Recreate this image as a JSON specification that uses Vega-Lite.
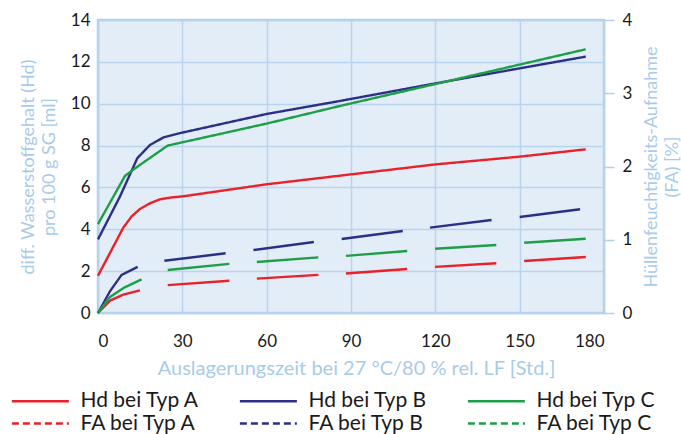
{
  "$schema": "https://vega.github.io/schema/vega-lite/v6.json",
  "width": 506,
  "height": 293,
  "autosize": {"type": "none"},
  "padding": {"left": 98, "top": 20, "right": 77, "bottom": 121},
  "config": {
    "font": "Lato",
    "view": {"fill": "#e3edf7", "stroke": "#b3cfee", "strokeWidth": 2.5},
    "axis": {"labelFont": "Lato", "titleFont": "Lato"},
    "legend": {"labelFont": "Lato"}
  },
  "datasets": {
    "hd": [
      {"series": "Hd bei Typ A", "t": 0, "v": 1.78},
      {"series": "Hd bei Typ A", "t": 9, "v": 4.08},
      {"series": "Hd bei Typ A", "t": 12, "v": 4.62},
      {"series": "Hd bei Typ A", "t": 14.9, "v": 4.97},
      {"series": "Hd bei Typ A", "t": 18.5, "v": 5.24},
      {"series": "Hd bei Typ A", "t": 22, "v": 5.43},
      {"series": "Hd bei Typ A", "t": 26, "v": 5.52},
      {"series": "Hd bei Typ A", "t": 30, "v": 5.57},
      {"series": "Hd bei Typ A", "t": 60, "v": 6.15},
      {"series": "Hd bei Typ A", "t": 86, "v": 6.56},
      {"series": "Hd bei Typ A", "t": 120, "v": 7.1},
      {"series": "Hd bei Typ A", "t": 150, "v": 7.47},
      {"series": "Hd bei Typ A", "t": 173.5, "v": 7.82},
      {"series": "Hd bei Typ B", "t": 0, "v": 3.52},
      {"series": "Hd bei Typ B", "t": 7.8, "v": 5.56},
      {"series": "Hd bei Typ B", "t": 14, "v": 7.4},
      {"series": "Hd bei Typ B", "t": 18.5, "v": 8.03},
      {"series": "Hd bei Typ B", "t": 23.3, "v": 8.39},
      {"series": "Hd bei Typ B", "t": 30, "v": 8.62},
      {"series": "Hd bei Typ B", "t": 60, "v": 9.51},
      {"series": "Hd bei Typ B", "t": 86, "v": 10.13},
      {"series": "Hd bei Typ B", "t": 120, "v": 10.97},
      {"series": "Hd bei Typ B", "t": 150, "v": 11.69},
      {"series": "Hd bei Typ B", "t": 173.5, "v": 12.25},
      {"series": "Hd bei Typ C", "t": 0, "v": 4.25},
      {"series": "Hd bei Typ C", "t": 9.6, "v": 6.55},
      {"series": "Hd bei Typ C", "t": 14, "v": 6.99},
      {"series": "Hd bei Typ C", "t": 24.8, "v": 8.0},
      {"series": "Hd bei Typ C", "t": 60, "v": 9.05},
      {"series": "Hd bei Typ C", "t": 86, "v": 9.89},
      {"series": "Hd bei Typ C", "t": 120, "v": 10.94},
      {"series": "Hd bei Typ C", "t": 150, "v": 11.87},
      {"series": "Hd bei Typ C", "t": 173.5, "v": 12.6}
    ],
    "fa": [
      {"series": "FA bei Typ A", "seg": "A1", "t": 0, "f": 0},
      {"series": "FA bei Typ A", "seg": "A1", "t": 4.3, "f": 0.17},
      {"series": "FA bei Typ A", "seg": "A1", "t": 9, "f": 0.25},
      {"series": "FA bei Typ A", "seg": "A1", "t": 14.9, "f": 0.31},
      {"series": "FA bei Typ A", "seg": "A2", "t": 24.8, "f": 0.38},
      {"series": "FA bei Typ A", "seg": "A2", "t": 46.7, "f": 0.44},
      {"series": "FA bei Typ A", "seg": "A3", "t": 56.5, "f": 0.47},
      {"series": "FA bei Typ A", "seg": "A3", "t": 78.4, "f": 0.52},
      {"series": "FA bei Typ A", "seg": "A4", "t": 88.2, "f": 0.54},
      {"series": "FA bei Typ A", "seg": "A4", "t": 110, "f": 0.6},
      {"series": "FA bei Typ A", "seg": "A5", "t": 119.9, "f": 0.63},
      {"series": "FA bei Typ A", "seg": "A5", "t": 141.7, "f": 0.68},
      {"series": "FA bei Typ A", "seg": "A6", "t": 151.6, "f": 0.71},
      {"series": "FA bei Typ A", "seg": "A6", "t": 173.5, "f": 0.765},
      {"series": "FA bei Typ B", "seg": "B1", "t": 0, "f": 0},
      {"series": "FA bei Typ B", "seg": "B1", "t": 4.3, "f": 0.3},
      {"series": "FA bei Typ B", "seg": "B1", "t": 8.4, "f": 0.52},
      {"series": "FA bei Typ B", "seg": "B1", "t": 14.1, "f": 0.63},
      {"series": "FA bei Typ B", "seg": "B2", "t": 23.6, "f": 0.714},
      {"series": "FA bei Typ B", "seg": "B2", "t": 45.4, "f": 0.815},
      {"series": "FA bei Typ B", "seg": "B3", "t": 55.3, "f": 0.86},
      {"series": "FA bei Typ B", "seg": "B3", "t": 76.8, "f": 0.97},
      {"series": "FA bei Typ B", "seg": "B4", "t": 86.7, "f": 1.01},
      {"series": "FA bei Typ B", "seg": "B4", "t": 108.4, "f": 1.12},
      {"series": "FA bei Typ B", "seg": "B5", "t": 118.1, "f": 1.165},
      {"series": "FA bei Typ B", "seg": "B5", "t": 140, "f": 1.27},
      {"series": "FA bei Typ B", "seg": "B6", "t": 150, "f": 1.31},
      {"series": "FA bei Typ B", "seg": "B6", "t": 171.5, "f": 1.416},
      {"series": "FA bei Typ C", "seg": "C1", "t": 0, "f": 0},
      {"series": "FA bei Typ C", "seg": "C1", "t": 4.3, "f": 0.22},
      {"series": "FA bei Typ C", "seg": "C1", "t": 9.5, "f": 0.35},
      {"series": "FA bei Typ C", "seg": "C1", "t": 15.5, "f": 0.46},
      {"series": "FA bei Typ C", "seg": "C2", "t": 24.8, "f": 0.587},
      {"series": "FA bei Typ C", "seg": "C2", "t": 46.7, "f": 0.67},
      {"series": "FA bei Typ C", "seg": "C3", "t": 56.5, "f": 0.696},
      {"series": "FA bei Typ C", "seg": "C3", "t": 78.4, "f": 0.76},
      {"series": "FA bei Typ C", "seg": "C4", "t": 88.2, "f": 0.78},
      {"series": "FA bei Typ C", "seg": "C4", "t": 110, "f": 0.846},
      {"series": "FA bei Typ C", "seg": "C5", "t": 119.9, "f": 0.878},
      {"series": "FA bei Typ C", "seg": "C5", "t": 141.7, "f": 0.928},
      {"series": "FA bei Typ C", "seg": "C6", "t": 151.6, "f": 0.96},
      {"series": "FA bei Typ C", "seg": "C6", "t": 173.5, "f": 1.014}
    ]
  },
  "layer": [
    {
      "data": {"name": "hd"},
      "mark": {"type": "line", "strokeWidth": 2.4},
      "encoding": {
        "x": {
          "field": "t", "type": "quantitative",
          "scale": {"domain": [0, 180], "nice": false},
          "axis": {
            "values": [0, 30, 60, 90, 120, 150, 180],
            "grid": true, "gridColor": "#b9d4ef", "gridWidth": 1.5,
            "domain": false, "ticks": false,
            "labelPadding": 20, "labelFontSize": 17, "labelColor": "#1a1a1a",
            "title": "Auslagerungszeit bei 27 °C/80 % rel. LF [Std.]",
            "titleColor": "#a9cbea", "titleFontSize": 20, "titleFontWeight": "normal",
            "titlePadding": 9, "titleX": 258
          }
        },
        "y": {
          "field": "v", "type": "quantitative",
          "scale": {"domain": [0, 14], "nice": false},
          "axis": {
            "orient": "left",
            "values": [0, 2, 4, 6, 8, 10, 12, 14],
            "grid": true, "gridColor": "#b9d4ef", "gridWidth": 1.5,
            "domain": false, "ticks": false,
            "labelPadding": 8, "labelFontSize": 17, "labelColor": "#1a1a1a",
            "title": ["diff. Wasserstoffgehalt (Hd)", "pro 100 g SG [ml]"],
            "titleColor": "#a9cbea", "titleFontSize": 18, "titleFontWeight": "normal",
            "titleLineHeight": 21, "titlePadding": 12
          }
        },
        "color": {
          "field": "series", "type": "nominal",
          "scale": {
            "domain": ["Hd bei Typ A", "Hd bei Typ B", "Hd bei Typ C", "FA bei Typ A", "FA bei Typ B", "FA bei Typ C"],
            "range": ["#e8212b", "#2c2f86", "#1f9e4a", "#e8212b", "#2c2f86", "#1f9e4a"]
          },
          "legend": {
            "title": null,
            "orient": "none",
            "direction": "horizontal",
            "legendX": -89.5,
            "legendY": 370.5,
            "columns": 3,
            "columnPadding": 35,
            "rowPadding": 0.5,
            "padding": 0,
            "symbolType": "M-1,0H7",
            "symbolSize": 203,
            "symbolStrokeWidth": 2.5,
            "labelFontSize": 21,
            "labelColor": "#1a1a1a",
            "labelOffset": 51,
            "labelLimit": 300
          }
        },
        "strokeDash": {
          "field": "series", "type": "nominal",
          "scale": {
            "domain": ["Hd bei Typ A", "Hd bei Typ B", "Hd bei Typ C", "FA bei Typ A", "FA bei Typ B", "FA bei Typ C"],
            "range": [[1, 0], [1, 0], [1, 0], [7, 4], [7, 4], [7, 4]]
          },
          "legend": {
            "title": null,
            "orient": "none",
            "direction": "horizontal",
            "legendX": -89.5,
            "legendY": 370.5,
            "columns": 3,
            "columnPadding": 35,
            "rowPadding": 0.5,
            "padding": 0,
            "symbolType": "M-1,0H7",
            "symbolSize": 203,
            "symbolStrokeWidth": 2.5,
            "labelFontSize": 21,
            "labelColor": "#1a1a1a",
            "labelOffset": 51,
            "labelLimit": 300
          }
        }
      }
    },
    {
      "data": {"name": "fa"},
      "mark": {"type": "line", "strokeWidth": 2.4},
      "encoding": {
        "x": {"field": "t", "type": "quantitative", "scale": {"domain": [0, 180], "nice": false}},
        "y": {
          "field": "f", "type": "quantitative",
          "scale": {"domain": [0, 4], "nice": false},
          "axis": {
            "orient": "right",
            "values": [0, 1, 2, 3, 4],
            "grid": false, "domain": false,
            "ticks": true, "tickSize": 10, "tickColor": "#b3cfee", "tickWidth": 1.5,
            "labelPadding": 8, "labelFontSize": 17, "labelColor": "#1a1a1a",
            "title": ["Hüllenfeuchtigkeits-Aufnahme", "(FA) [%]"],
            "titleAngle": -90,
            "titleColor": "#a9cbea", "titleFontSize": 18, "titleFontWeight": "normal",
            "titleLineHeight": 21, "titlePadding": 8
          }
        },
        "color": {"field": "series", "type": "nominal"},
        "detail": {"field": "seg", "type": "nominal"}
      }
    }
  ],
  "resolve": {"scale": {"y": "independent"}}
}
